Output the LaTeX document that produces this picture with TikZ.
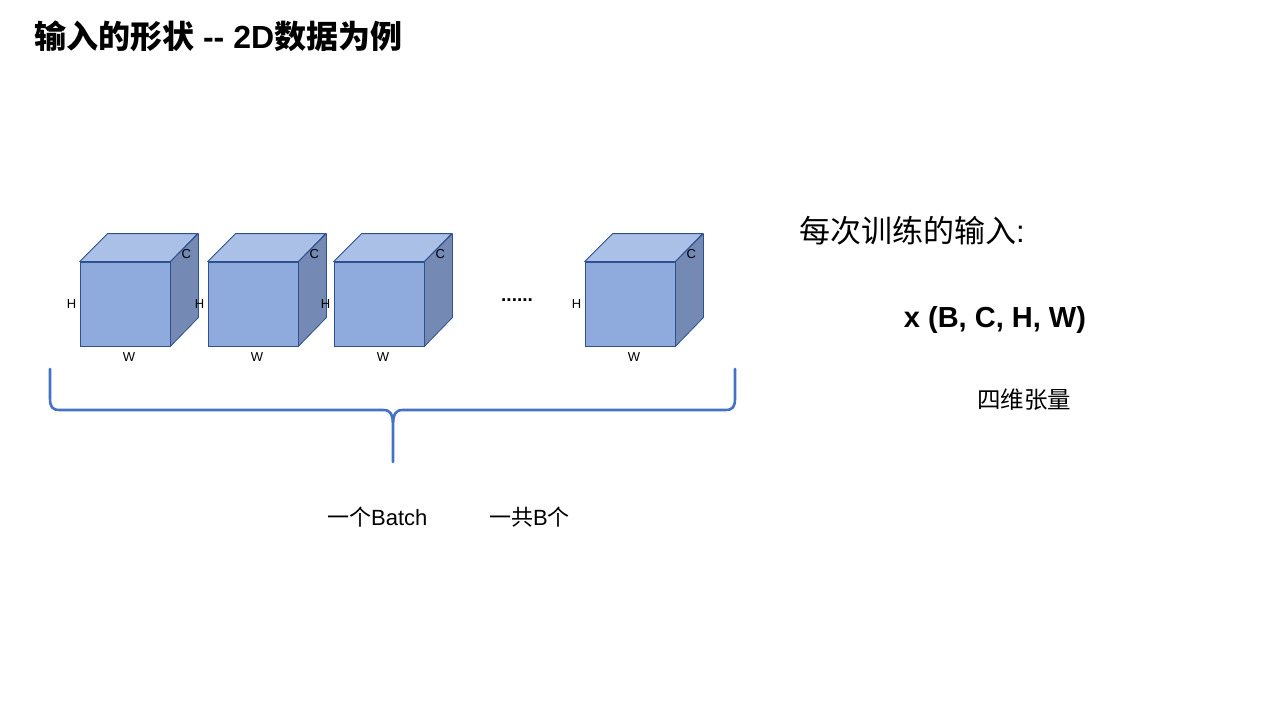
\documentclass[tikz,border=0pt]{standalone}
\usepackage{fontspec}
\setmainfont{Noto Sans CJK SC}
\newfontfamily\labfont{Liberation Sans}
\definecolor{cfront}{RGB}{143,170,220}
\definecolor{ctop}{RGB}{170,192,231}
\definecolor{cside}{RGB}{116,137,180}
\definecolor{cedge}{RGB}{47,82,143}
\definecolor{cbrace}{RGB}{68,114,196}
\tikzset{
  frontface/.style={draw=cedge, fill=cfront, line width=0.8pt, minimum width=90pt, minimum height=84pt, inner sep=0pt},
  topface/.style={draw=cedge, fill=ctop, line width=0.8pt, line join=round},
  sideface/.style={draw=cedge, fill=cside, line width=0.8pt, line join=round},
  dimlab/.style={font=\labfont\fontsize{13}{14}\selectfont, inner sep=0pt},
  bracestyle/.style={draw=cbrace, line width=2.6pt, line cap=round, line join=round},
  title/.style={font=\fontsize{32}{35}\selectfont\bfseries, anchor=west, inner sep=0pt},
  bodytext/.style={inner sep=0pt}
}
\newcommand{\drawcube}[2]{%
  \node[frontface] (#1) at (#2,304) {};
  \draw[topface] (#1.north west) -- ++(28,-28) -- ++(90,0) -- (#1.north east) -- cycle;
  \draw[sideface] (#1.north east) -- ++(28,-28) -- ++(0,84) -- (#1.south east) -- cycle;
  \node[dimlab] (#1H) at ([xshift=-8pt]#1.west) {H};
  \node[dimlab] (#1C) at ([xshift=16pt,yshift=8pt]#1.north east) {C};
  \node[dimlab] (#1W) at ([xshift=4pt,yshift=-11pt]#1.south) {W};
}
\begin{document}
\begin{tikzpicture}[x=1pt,y=-1pt]
\useasboundingbox[fill=white] (0,0) rectangle (1280,720);
\node[title] (ttl) at (34,36) {输入的形状{\labfont\bfseries\ -{}-\ 2D}数据为例};
\drawcube{c1}{125}
\drawcube{c2}{253}
\drawcube{c3}{379}
\drawcube{c4}{630}
\node[bodytext, font=\labfont\bfseries\fontsize{19}{22}\selectfont, anchor=west] (dots) at (501,300) {......};
\draw[bracestyle] (50,369) -- (50,398) .. controls (50,407) and (52,410) .. (60,410)
  -- (383,410) .. controls (391,410) and (393,414) .. (393,428) -- (393,462)
  (393,428) .. controls (393,414) and (395,410) .. (403,410)
  -- (725,410) .. controls (733,410) and (735,407) .. (735,398) -- (735,369);
\node[bodytext, font=\fontsize{22}{24}\selectfont, anchor=west] (batch) at (327,517) {一个{\labfont Batch}};
\node[bodytext, font=\fontsize{22}{24}\selectfont, anchor=west] (total) at (489,517) {一共{\labfont B}个};
\node[bodytext, font=\fontsize{31}{34}\selectfont, anchor=west] (each) at (799,231) {每次训练的输入{\labfont :}};
\node[bodytext, font=\labfont\fontsize{29}{32}\selectfont\bfseries] (shape) at (995,320) {x (B, C, H, W)};
\node[bodytext, font=\fontsize{23.5}{26}\selectfont, anchor=west] (tensor) at (977,400) {四维张量};
\end{tikzpicture}
\end{document}
